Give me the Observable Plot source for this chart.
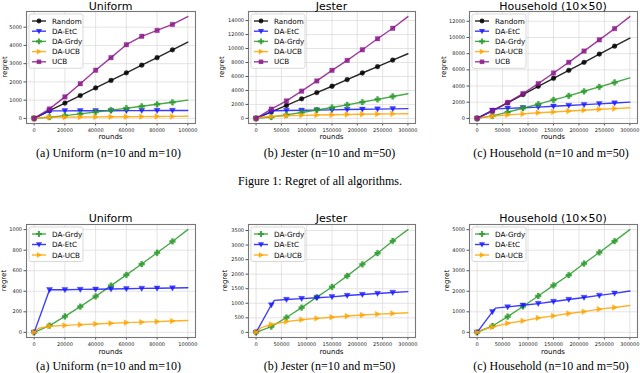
<!DOCTYPE html>
<html><head><meta charset="utf-8">
<script src="https://cdn.jsdelivr.net/npm/d3@7"></script>
<script src="https://cdn.jsdelivr.net/npm/@observablehq/plot@0.6"></script>
<style>
body{margin:0;background:#fff;}
#root{position:relative;width:640px;height:373px;overflow:hidden;background:#fff;}
.panel{position:absolute;}
#overlay{position:absolute;left:0;top:0;pointer-events:none;}
</style></head><body><div id="root"></div>
<script>
// ---------- data ----------
const uniformRounds = [0,10000,20000,30000,40000,50000,60000,70000,80000,90000,100000];
const uniformRandom = [0,420,840,1250,1670,2080,2500,2920,3330,3760,4180];
const uniformEtc    = [0,415,415,418,420,422,425,428,430,432,435];
const uniformGrdy   = [0,65,155,250,350,455,560,665,775,885,1000];
const uniformDaUcbRounds = [0,3000,10000,20000,30000,40000,50000,60000,70000,80000,90000,100000];
const uniformDaUcb  = [0,40,60,68,75,82,88,95,100,105,110,115];
const uniformUcb    = [0,520,1180,1900,2640,3330,4040,4500,4820,5150,5580];

const largeRounds = [0,30000,60000,90000,120000,150000,180000,210000,240000,270000,300000];
const kinkRounds  = [0,30000,36000,60000,90000,120000,150000,180000,210000,240000,270000,300000];
const earlyRounds = [0,10000,30000,60000,90000,120000,150000,180000,210000,240000,270000,300000];

const jesterRandom = [0,920,1850,2800,3700,4600,5550,6500,7400,8350,9250];
const jesterEtc    = [0,940,1100,1130,1160,1190,1220,1265,1300,1335,1370,1400];
const jesterGrdy   = [0,200,510,850,1210,1560,1940,2340,2720,3140,3530];
const jesterDaUcb  = [0,160,270,370,435,480,520,560,595,625,650,675];
const jesterUcb    = [0,1330,2500,3900,5360,6880,8300,9820,11400,12900,14570];

const houseRandom = [0,950,1930,2950,3970,4960,5940,6930,7950,8930,9920];
const houseEtc    = [0,1000,1180,1240,1320,1400,1500,1600,1700,1800,1900,2010];
const houseGrdy   = [0,310,770,1260,1770,2290,2790,3350,3890,4440,5000];
const houseDaUcb  = [0,130,260,440,560,700,800,915,1010,1130,1210,1310];
const houseUcb    = [0,900,1970,3070,4300,5610,6930,8320,9710,11100,12580];

const panelTitles = ["Uniform","Jester","Household (10\u00d750)"];
const captions = ["(a) Uniform (n=10 and m=10)","(b) Jester (n=10 and m=50)","(c) Household (n=10 and m=50)"];
const figureCaption = "Figure 1: Regret of all algorithms.";
const xTicksUniform = [0,20000,40000,60000,80000,100000];
const xTicksLarge = [0,50000,100000,150000,200000,250000,300000];
const yTicksTop = [d3.range(0,5001,1000), d3.range(0,14001,2000), d3.range(0,12001,2000)];
const yTicksBottom = [d3.range(0,1001,200), d3.range(0,3501,500), d3.range(0,5001,1000)];

// ---------- symbols ----------
const triDown = {draw(c,s){const r=Math.sqrt(s/Math.PI)*1.25;c.moveTo(0,r);c.lineTo(-r,-r*0.75);c.lineTo(r,-r*0.75);c.closePath();}};
const triRight = {draw(c,s){const r=Math.sqrt(s/Math.PI)*1.2;c.moveTo(r,0);c.lineTo(-r*0.75,-r);c.lineTo(-r*0.75,r);c.closePath();}};
const plusFilled = {draw(c,s){const r=Math.sqrt(s/Math.PI)*1.2,t=r*0.38;c.moveTo(-t,-r);c.lineTo(t,-r);c.lineTo(t,-t);c.lineTo(r,-t);c.lineTo(r,t);c.lineTo(t,t);c.lineTo(t,r);c.lineTo(-t,r);c.lineTo(-t,t);c.lineTo(-r,t);c.lineTo(-r,-t);c.lineTo(-t,-t);c.closePath();}};
const squareSym = {draw(c,s){const r=Math.sqrt(s/Math.PI)*0.95;c.rect(-r,-r,2*r,2*r);}};
const circleSym = {draw(c,s){const r=Math.sqrt(s/Math.PI);c.moveTo(r,0);c.arc(0,0,r,0,2*Math.PI);}};

const styles = {
  "Random":  {color:"#000000", symbol:circleSym},
  "DA-EtC":  {color:"#1a1aff", symbol:triDown},
  "DA-Grdy": {color:"#2a9a2a", symbol:plusFilled},
  "DA-UCB":  {color:"#ffa500", symbol:triRight},
  "UCB":     {color:"#8b1a8b", symbol:squareSym}
};

function ser(name, xs, ys){ return {name, data: xs.map((x,i)=>({x, y: ys[i]}))}; }

const topSeries = [
  [ser("Random",uniformRounds,uniformRandom), ser("DA-EtC",uniformRounds,uniformEtc), ser("DA-Grdy",uniformRounds,uniformGrdy), ser("DA-UCB",uniformDaUcbRounds,uniformDaUcb), ser("UCB",uniformRounds,uniformUcb)],
  [ser("Random",largeRounds,jesterRandom), ser("DA-EtC",kinkRounds,jesterEtc), ser("DA-Grdy",largeRounds,jesterGrdy), ser("DA-UCB",earlyRounds,jesterDaUcb), ser("UCB",largeRounds,jesterUcb)],
  [ser("Random",largeRounds,houseRandom), ser("DA-EtC",kinkRounds,houseEtc), ser("DA-Grdy",largeRounds,houseGrdy), ser("DA-UCB",earlyRounds,houseDaUcb), ser("UCB",largeRounds,houseUcb)]
];
const bottomSeries = [
  [ser("DA-Grdy",uniformRounds,uniformGrdy), ser("DA-EtC",uniformRounds,uniformEtc), ser("DA-UCB",uniformDaUcbRounds,uniformDaUcb)],
  [ser("DA-Grdy",largeRounds,jesterGrdy), ser("DA-EtC",kinkRounds,jesterEtc), ser("DA-UCB",earlyRounds,jesterDaUcb)],
  [ser("DA-Grdy",largeRounds,houseGrdy), ser("DA-EtC",kinkRounds,houseEtc), ser("DA-UCB",earlyRounds,houseDaUcb)]
];

// ---------- layout ----------
const cols = [[26,195],[248,415],[469,637]];
const rows = [[11,123],[224,337]];
const steps = [10000,30000,30000];
const ylabelX = [[5,222,444],[4,225,447]];

const root = document.getElementById("root");
const mL=34,mR=6,mT=4,mB=26;

function drawPanel(ri, ci, series){
  const [fl,fr] = cols[ci], [ft,fb] = rows[ri];
  const fw = fr-fl, fh = fb-ft;
  const xMax = d3.max(series, s=>d3.max(s.data,d=>d.x));
  const yMax = d3.max(series, s=>d3.max(s.data,d=>d.y));
  const yMin = 0;
  const xs = ci===0 ? xTicksUniform : xTicksLarge;
  const ys = ri===0 ? yTicksTop[ci] : yTicksBottom[ci];
  const step = steps[ci];
  const marks = [
    Plot.gridX(xs,{stroke:"#d8d8d8",strokeOpacity:1,strokeWidth:0.7}),
    Plot.gridY(ys,{stroke:"#d8d8d8",strokeOpacity:1,strokeWidth:0.7}),
    Plot.axisX(xs,{tickFormat:d=>String(d),fontSize:5,tickSize:2.5,tickPadding:2,label:null,fill:"#222",stroke:"#555"}),
    Plot.axisY(ys,{tickFormat:d=>String(d),fontSize:5,tickSize:2.5,tickPadding:2,label:null,fill:"#222",stroke:"#555"})
  ];
  for(const s of series){
    const st = styles[s.name];
    marks.push(Plot.line(s.data,{x:"x",y:"y",stroke:st.color,strokeWidth:1.4,strokeOpacity:0.85}));
    marks.push(Plot.dot(s.data.filter(d=>d.x%step===0 && d.x<xMax),{x:"x",y:"y",symbol:st.symbol,r:2.4,fill:st.color,fillOpacity:0.85,stroke:st.color,strokeOpacity:0.6,strokeWidth:0.5}));
  }
  marks.push(Plot.frame({stroke:"#777",strokeWidth:1.1}));
  const svg = Plot.plot({
    width: fw+mL+mR, height: fh+mT+mB,
    marginLeft:mL, marginRight:mR, marginTop:mT, marginBottom:mB,
    style:{background:"transparent",fontFamily:"DejaVu Sans",overflow:"visible"},
    x:{domain:[-0.05*xMax,1.05*xMax]},
    y:{domain:[yMin-0.05*(yMax-yMin), yMax+0.05*(yMax-yMin)]},
    marks
  });
  svg.classList.add("panel");
  svg.style.left = (fl-mL)+"px";
  svg.style.top = (ft-mT)+"px";
  root.appendChild(svg);
}

topSeries.forEach((s,ci)=>drawPanel(0,ci,s));
bottomSeries.forEach((s,ci)=>drawPanel(1,ci,s));

// ---------- overlay texts & legends ----------
const ov = d3.select(root).append("svg").attr("id","overlay").attr("width",640).attr("height",373);
const sans = "DejaVu Sans, sans-serif", serif = "Liberation Serif, Times New Roman, serif";
const titleY = [9.5,222], roundsY = [139,353.5], capY = [156.5,369.5];
rows.forEach(([ft,fb],ri)=>{
  cols.forEach(([fl,fr],ci)=>{
    const cx=(fl+fr)/2, cy=(ft+fb)/2;
    ov.append("text").attr("x",cx).attr("y",titleY[ri]).attr("text-anchor","middle").attr("font-family",sans).attr("font-size",11).attr("fill","#000").text(panelTitles[ci]);
    ov.append("text").attr("x",cx).attr("y",roundsY[ri]).attr("text-anchor","middle").attr("font-family",sans).attr("font-size",7).attr("fill","#000").text("rounds");
    ov.append("text").attr("transform",`translate(${ylabelX[ri][ci]},${cy}) rotate(-90)`).attr("text-anchor","middle").attr("dominant-baseline","central").attr("font-family",sans).attr("font-size",7).attr("fill","#000").text("regret");
    ov.append("text").attr("x",cx-2).attr("y",capY[ri]).attr("text-anchor","middle").attr("font-family",serif).attr("font-size",12).attr("fill","#000").text(captions[ci]);
    // legend
    const names = (ri===0?topSeries:bottomSeries)[ci].map(s=>s.name);
    const n = names.length, sp = ri===0?10.2:10.5;
    const bx = fl+3, by = ft+3, bw = 54, bh = (n-1)*sp+13.5;
    const g = ov.append("g");
    g.append("rect").attr("x",bx).attr("y",by).attr("width",bw).attr("height",bh).attr("rx",2).attr("fill","#fff").attr("fill-opacity",0.85).attr("stroke","#cfcfcf").attr("stroke-width",0.8);
    names.forEach((nm,i)=>{
      const st = styles[nm], y = by+7+i*sp;
      g.append("line").attr("x1",bx+3).attr("x2",bx+17).attr("y1",y).attr("y2",y).attr("stroke",st.color).attr("stroke-width",1.4).attr("stroke-opacity",0.85);
      g.append("path").attr("d",d3.symbol(st.symbol,2.4*2.4*Math.PI)()).attr("transform",`translate(${bx+10},${y})`).attr("fill",st.color).attr("fill-opacity",0.85);
      g.append("text").attr("x",bx+23).attr("y",y).attr("dominant-baseline","central").attr("font-family",sans).attr("font-size",7.2).attr("fill","#000").text(nm);
    });
  });
});
ov.append("text").attr("x",320).attr("y",185).attr("text-anchor","middle").attr("font-family",serif).attr("font-size",12).attr("fill","#000").text(figureCaption);
</script></body></html>
